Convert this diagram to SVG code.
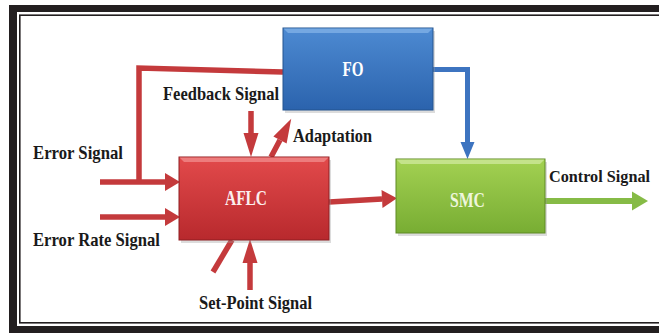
<svg xmlns="http://www.w3.org/2000/svg" width="659" height="333" viewBox="0 0 659 333">
<style>
.lbl{font-family:"Liberation Serif","Times New Roman",serif;font-weight:bold;font-size:19px;fill:#1a1a1a}
.nt{font-family:"Liberation Serif","Times New Roman",serif;font-weight:bold;font-size:20px;text-anchor:middle}
.red{fill:none;stroke:#c43a3c;stroke-width:5.5}
.blue{fill:none;stroke:#3d74c0;stroke-width:5}
.green{fill:none;stroke:#86bb46;stroke-width:6}
.shadow{fill:#9a9a9a;opacity:0.35}
</style>
<defs>
<linearGradient id="gRed" x1="0" y1="0" x2="0" y2="1">
<stop offset="0" stop-color="#e24a4b"/><stop offset="1" stop-color="#b8292d"/>
</linearGradient>
<linearGradient id="gBlue" x1="0" y1="0" x2="0" y2="1">
<stop offset="0" stop-color="#4d8ad2"/><stop offset="1" stop-color="#2b63ad"/>
</linearGradient>
<linearGradient id="gGreen" x1="0" y1="0" x2="0" y2="1">
<stop offset="0" stop-color="#a3d152"/><stop offset="1" stop-color="#78ad33"/>
</linearGradient>
<marker id="hRed" markerUnits="userSpaceOnUse" markerWidth="15" markerHeight="18" refX="0" refY="9" orient="auto" overflow="visible">
<path d="M0,0 L15,9 L0,18 z" fill="#c43a3c"/>
</marker>
<marker id="vRed" markerUnits="userSpaceOnUse" markerWidth="24" markerHeight="15" refX="0" refY="7.5" orient="auto" overflow="visible">
<path d="M0,0 L24,7.5 L0,15 z" fill="#c43a3c"/>
</marker>
<marker id="vBlue" markerUnits="userSpaceOnUse" markerWidth="17" markerHeight="14" refX="0" refY="7" orient="auto" overflow="visible">
<path d="M0,0 L17,7 L0,14 z" fill="#3d74c0"/>
</marker>
<marker id="hGreen" markerUnits="userSpaceOnUse" markerWidth="16" markerHeight="19" refX="0" refY="9.5" orient="auto" overflow="visible">
<path d="M0,0 L16,9.5 L0,19 z" fill="#86bb46"/>
</marker>
</defs>

<rect x="0" y="0" width="659" height="333" fill="#ffffff"/>
<g id="frame">
<path d="M9,5 H659 V12 H17 V326 H659 V333 H9 z" fill="#231f20"/>
<rect x="19.8" y="15.2" width="700" height="307.6" fill="none" stroke="#231f20" stroke-width="1.6"/>
</g>

<g id="connectors">
<path class="red" d="M283,72 L139,68 L139,182"/>
<path class="red" d="M100,182 L165,182" marker-end="url(#hRed)"/>
<path class="red" d="M100,217 L165,217" marker-end="url(#hRed)"/>
<path class="red" d="M251,111 L251,133" marker-end="url(#vRed)"/>
<path class="red" d="M271,157 L280,140" marker-end="url(#vRed)"/>
<path class="red" d="M250,290 L250,263" marker-end="url(#vRed)"/>
<path class="red" d="M213,272 L232,240"/>
<path class="red" d="M329,202 L382,199" marker-end="url(#hRed)"/>
<path class="blue" d="M433,69.5 L467.5,69.5 L467.5,142" marker-end="url(#vBlue)"/>
<path class="green" d="M545,201 L632,201" marker-end="url(#hGreen)"/>
</g>

<g id="FO">
<rect class="shadow" x="285" y="31" width="150" height="82"/>
<rect x="283" y="28" width="150" height="82" fill="url(#gBlue)" stroke="#24548f" stroke-width="1"/>
<path d="M283.5,28.5 H432.5 L428,33 H288 z" fill="#7fb0e6" opacity="0.8"/>
<text class="nt" x="353" y="76" fill="#ffffff" textLength="21" lengthAdjust="spacingAndGlyphs">FO</text>
</g>

<g id="AFLC">
<rect class="shadow" x="181" y="160" width="150" height="83"/>
<rect x="179" y="157" width="150" height="83" fill="url(#gRed)" stroke="#8f1f22" stroke-width="1"/>
<path d="M179.5,157.5 H328.5 L324,162 H184 z" fill="#f08a8a" opacity="0.8"/>
<text class="nt" x="246" y="205" fill="#fbeeee" textLength="42" lengthAdjust="spacingAndGlyphs">AFLC</text>
</g>

<g id="SMC">
<rect class="shadow" x="398" y="162" width="149" height="74"/>
<rect x="396" y="159" width="149" height="74" fill="url(#gGreen)" stroke="#5e8a25" stroke-width="1"/>
<path d="M396.5,159.5 H544.5 L540,164 H401 z" fill="#cde79a" opacity="0.8"/>
<text class="nt" x="467.5" y="207" fill="#eef6dc" textLength="35" lengthAdjust="spacingAndGlyphs">SMC</text>
</g>

<g id="labels">
<text class="lbl" x="163" y="100" textLength="116" lengthAdjust="spacingAndGlyphs">Feedback Signal</text>
<text class="lbl" x="293" y="142" textLength="79" lengthAdjust="spacingAndGlyphs">Adaptation</text>
<text class="lbl" x="33" y="159" textLength="90" lengthAdjust="spacingAndGlyphs">Error Signal</text>
<text class="lbl" x="33" y="246" textLength="127" lengthAdjust="spacingAndGlyphs">Error Rate Signal</text>
<text class="lbl" x="199" y="309" textLength="113" lengthAdjust="spacingAndGlyphs">Set-Point Signal</text>
<text class="lbl" x="549" y="182" font-size="17" style="font-size:17px" textLength="101" lengthAdjust="spacingAndGlyphs">Control Signal</text>
</g>
</svg>
